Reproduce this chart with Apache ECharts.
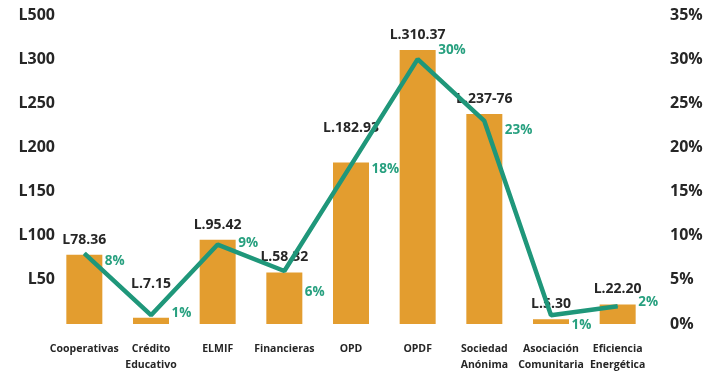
<!DOCTYPE html>
<html>
<head>
<meta charset="utf-8">
<style>
  html, body { margin: 0; padding: 0; background: #ffffff; }
  #chart { width: 722px; height: 373px; }
</style>
<script src="https://cdn.jsdelivr.net/npm/echarts@6/dist/echarts.min.js"></script>
</head>
<body>
<div id="chart"></div>
<script>
// Cartera por tipo de institución (millones de lempiras) y su participación
const categories = ['Cooperativas', 'Crédito\nEducativo', 'ELMIF', 'Financieras', 'OPD', 'OPDF',
  'Sociedad\nAnónima', 'Asociación\nComunitaria', 'Eficiencia\nEnergética'];
const amounts = [78.36, 7.15, 95.42, 58.32, 182.93, 310.37, 237.76, 5.30, 22.20];
const amountLabels = ['L78.36', 'L.7.15', 'L.95.42', 'L.58.32', 'L.182.93', 'L.310.37', 'L.237-76', 'L.5.30', 'L.22.20'];
const shares = [8, 1, 9, 6, 18, 30, 23, 1, 2];
const leftTickLabels = ['', 'L50', 'L100', 'L150', 'L200', 'L250', 'L300', 'L500'];

// label placement tweaks so texts clear the line
const amountLabelGap = [8, 27, 8, 8, 27, 8, 8, 8, 8];
const shareLabelDy = [8, -2, -1, 21, 4, -9, 9, 10, -4];

const FONT = '"Open Sans", "DejaVu Sans", sans-serif';
const ORANGE = '#E39D2F';
const GREEN = '#1F977A';
const DARK = '#262626';

const chart = echarts.init(document.getElementById('chart'));
chart.setOption({
  backgroundColor: '#ffffff',
  animation: false,
  grid: { left: 51, right: 71, top: 15, bottom: 48 },
  xAxis: {
    type: 'category',
    data: categories,
    axisLine: { show: false },
    axisTick: { show: false },
    axisLabel: {
      interval: 0,
      margin: 17,
      fontFamily: FONT,
      fontWeight: 'bold',
      fontSize: 10.5,
      lineHeight: 16,
      color: DARK,
      verticalAlign: 'top'
    }
  },
  yAxis: [
    {
      type: 'value',
      min: 0, max: 350, interval: 50,
      splitLine: { show: false },
      axisLine: { show: false },
      axisTick: { show: false },
      axisLabel: {
        margin: -4,
        fontFamily: FONT,
        fontWeight: 'bold',
        fontSize: 16,
        color: DARK,
        formatter: (v) => leftTickLabels[Math.round(v / 50)]
      }
    },
    {
      type: 'value',
      min: 0, max: 35, interval: 5,
      splitLine: { show: false },
      axisLine: { show: false },
      axisTick: { show: false },
      axisLabel: {
        margin: 19,
        fontFamily: FONT,
        fontWeight: 'bold',
        fontSize: 16,
        color: DARK,
        formatter: '{value}%'
      }
    }
  ],
  series: [
    {
      type: 'bar',
      barWidth: '54%',
      itemStyle: { color: ORANGE },
      data: amounts.map((v, i) => ({
        value: v,
        label: {
          show: true,
          position: 'top',
          distance: amountLabelGap[i],
          formatter: amountLabels[i],
          fontFamily: FONT,
          fontWeight: 'bold',
          fontSize: 14,
          color: DARK
        }
      })),
      z: 2
    },
    {
      type: 'line',
      yAxisIndex: 1,
      symbol: 'circle',
      symbolSize: 1,
      showSymbol: true,
      itemStyle: { color: GREEN },
      lineStyle: { color: GREEN, width: 4.5 },
      label: { show: true },
      data: shares.map((v, i) => ({
        value: v,
        label: {
          show: true,
          position: 'right',
          distance: 20,
          offset: [0, shareLabelDy[i]],
          formatter: v + '%',
          fontFamily: FONT,
          fontWeight: 'bold',
          fontSize: 13.5,
          color: '#27A07F'
        }
      })),
      z: 3
    }
  ]
});
</script>
</body>
</html>
